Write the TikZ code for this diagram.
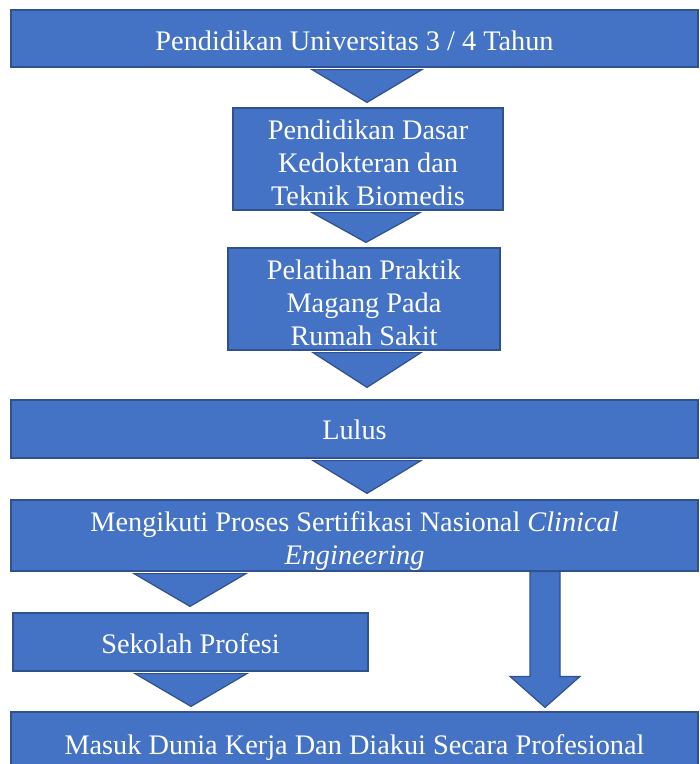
\documentclass[tikz,border=0pt]{standalone}
\usepackage{fontspec}
\setmainfont{Liberation Serif}
\usetikzlibrary{calc}
\definecolor{boxfill}{HTML}{4472C4}
\definecolor{boxline}{HTML}{2F528F}
\tikzset{
  box/.style={draw=boxline, line width=1.2pt, fill=boxfill, text=white, align=center,
    inner sep=0pt, font=\fontsize{28.3}{33}\selectfont},
  tri/.style={draw=boxline, line width=1.2pt, fill=boxfill, line join=miter}
}
\newcommand{\pushdown}[1]{\rule{0pt}{#1}}
\newcommand{\tridown}[5]{%
  \path[tri] let \p1=(#3.south), \p2=(#4.north) in
    (#1pt-#2pt,\y1-2pt) -- (#1pt+#2pt,\y1-2pt) -- (#1pt,\y2+#5pt) -- cycle;}
\begin{document}
\begin{tikzpicture}[x=1pt,y=-1pt]
\useasboundingbox (0,0) rectangle (700,764);
\clip (0,0) rectangle (700,764);
\node[box, minimum width=687pt, minimum height=57pt] (top) at (354.5,38.5) {\pushdown{23.5pt}Pendidikan Universitas 3 / 4 Tahun};
\node[box, minimum width=270pt, minimum height=102pt] (dasar) at (368,159) {\pushdown{27pt}Pendidikan Dasar\\Kedokteran dan\\Teknik Biomedis};
\node[box, minimum width=272pt, minimum height=102pt] (magang) at (364,299) {\pushdown{27pt}Pelatihan Praktik\\Magang Pada\\Rumah Sakit};
\node[box, minimum width=687pt, minimum height=58pt] (lulus) at (354.5,429) {\pushdown{21.5pt}Lulus};
\node[box, minimum width=687pt, minimum height=71pt] (cert) at (354.5,535.5) {\pushdown{32pt}Mengikuti Proses Sertifikasi Nasional \textit{Clinical}\\\textit{Engineering}};
\node[box, minimum width=355pt, minimum height=58pt] (sekolah) at (190.5,642) {\pushdown{23.5pt}Sekolah Profesi};
\node[box, minimum width=687pt, minimum height=66pt] (kerja) at (354.5,745) {\pushdown{25pt}Masuk Dunia Kerja Dan Diakui Secara Profesional};
\tridown{367}{55}{top}{dasar}{5}
\tridown{366}{54}{dasar}{magang}{5}
\tridown{367}{54}{magang}{lulus}{12}
\tridown{367}{54}{lulus}{cert}{6}
\tridown{190}{56}{cert}{sekolah}{6}
\tridown{191}{56}{sekolah}{kerja}{5}
\path[tri] let \p1=(cert.south), \p2=(kerja.north) in
  (530pt,\y1) -- (560pt,\y1) -- (560pt,\y2+35pt) -- (580pt,\y2+35pt) --
  (545pt,\y2+4pt) -- (510pt,\y2+35pt) -- (530pt,\y2+35pt) -- cycle;
\end{tikzpicture}
\end{document}
